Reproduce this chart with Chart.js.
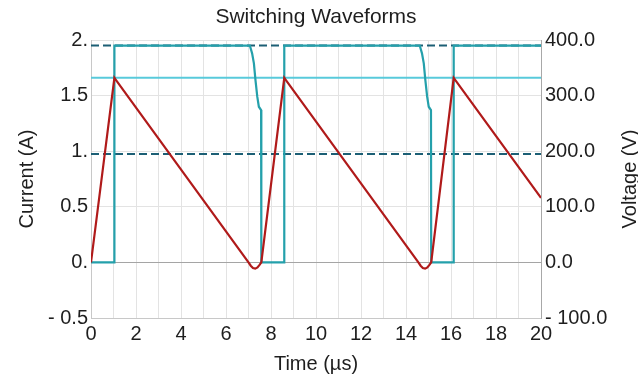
<!DOCTYPE html>
<html>
<head>
<meta charset="utf-8">
<script src="https://cdn.jsdelivr.net/npm/chart.js@4.4.1/dist/chart.umd.min.js"></script>
<style>
  html, body { margin: 0; padding: 0; background: #ffffff; }
  #wrap { width: 638px; height: 374px; }
</style>
</head>
<body>
<div id="wrap"><canvas id="c" width="638" height="374"></canvas></div>
<script>
// ---- data ----
const currentTime = [0, 1.04, 7.0, 7.1, 7.2, 7.3, 7.4, 7.5, 7.57, 8.59, 14.55, 14.65, 14.75, 14.85, 14.95, 15.05, 15.12, 16.12, 20];
const currentA    = [0, 1.66, 0, -0.03, -0.05, -0.056, -0.045, -0.02, 0, 1.66, 0, -0.03, -0.05, -0.056, -0.045, -0.02, 0, 1.66, 0.58];

const voltageTime = [0, 1.04, 1.04, 7.06, 7.16, 7.24, 7.31, 7.39, 7.46, 7.56, 7.57, 8.59, 8.59, 14.61, 14.71, 14.79, 14.86, 14.94, 15.01, 15.11, 15.12, 16.12, 16.12, 20];
const voltageV    = [0, 0, 390, 390, 376, 358, 328, 298, 280, 274, 0, 0, 390, 390, 376, 358, 328, 298, 280, 274, 0, 0, 390, 390];

const peakCurrent = 1.66;          // A, solid cyan reference
const inputVoltage = 390;          // V, dashed reference
const halfVoltage = 195;           // V, dashed reference
const timeRange = [0, 20];

const leftTickLabels  = ['- 0.5', '0.', '0.5', '1.', '1.5', '2.'];
const rightTickLabels = ['- 100.0', '0.0', '100.0', '200.0', '300.0', '400.0'];

// ---- build ----
const toXY = (xs, ys) => xs.map((x, i) => ({ x: x, y: ys[i] }));
const hLine = (v) => timeRange.map(x => ({ x: x, y: v }));

const FONT = "'Liberation Sans', Arial, sans-serif";
const TEXT = '#1e1e1e';

const rightTitle = {
  id: 'rightTitle',
  afterDraw(chart) {
    const ctx = chart.ctx;
    const a = chart.chartArea;
    ctx.save();
    ctx.translate(630, (a.top + a.bottom) / 2);
    ctx.rotate(-Math.PI / 2);
    ctx.font = '20px ' + FONT;
    ctx.fillStyle = TEXT;
    ctx.textAlign = 'center';
    ctx.textBaseline = 'middle';
    ctx.fillText('Voltage (V)', 0, 0);
    ctx.restore();
  }
};

new Chart(document.getElementById('c'), {
  type: 'line',
  data: {
    datasets: [
      { label: 'Current', data: toXY(currentTime, currentA), yAxisID: 'y',
        borderColor: '#b01a1a', borderWidth: 2.2 },
      { label: 'Voltage', data: toXY(voltageTime, voltageV), yAxisID: 'y1',
        borderColor: '#24a0ab', borderWidth: 2.2 },
      { label: 'Vin', data: hLine(inputVoltage), yAxisID: 'y1',
        borderColor: '#1c5f75', borderWidth: 2, borderDash: [8, 4] },
      { label: 'Vin/2', data: hLine(halfVoltage), yAxisID: 'y1',
        borderColor: '#1c5f75', borderWidth: 2, borderDash: [8, 4] },
      { label: 'Ipk', data: hLine(peakCurrent), yAxisID: 'y',
        borderColor: '#58cadb', borderWidth: 2 }
    ]
  },
  options: {
    responsive: false,
    animation: false,
    devicePixelRatio: 1,
    parsing: true,
    elements: { point: { radius: 0 }, line: { tension: 0 } },
    layout: { padding: 0 },
    plugins: {
      legend: { display: false },
      tooltip: { enabled: false },
      title: {
        display: true, text: 'Switching Waveforms', fullSize: false,
        color: TEXT, font: { family: FONT, size: 21, weight: 'normal', lineHeight: 1.2 },
        padding: { top: 5, bottom: 9.8 }
      }
    },
    scales: {
      x: {
        type: 'linear', min: timeRange[0], max: timeRange[1],
        afterFit: s => { s.height = 56; },
        ticks: {
          stepSize: 1, autoSkip: false, maxRotation: 0, padding: 4,
          color: TEXT, font: { family: FONT, size: 20 },
          callback: v => (v % 2 === 0 ? String(v) : '')
        },
        grid: { color: '#e3e3e3', lineWidth: 1, drawTicks: false },
        border: { color: '#c8c8c8' },
        title: { display: true, text: 'Time (µs)', color: TEXT,
          font: { family: FONT, size: 20, lineHeight: 1 }, padding: { top: 0, bottom: 0 } }
      },
      y: {
        position: 'left', min: -0.5, max: 2,
        afterFit: s => { s.width = 91; },
        ticks: {
          stepSize: 0.5, padding: 3, color: TEXT, font: { family: FONT, size: 20 },
          callback: (v, i) => leftTickLabels[i]
        },
        grid: { color: c => (c.tick && c.tick.value === 0 ? '#a5a5a5' : '#e3e3e3'), lineWidth: 1, drawTicks: false },
        border: { color: '#c8c8c8' },
        title: { display: true, text: 'Current (A)', color: TEXT,
          font: { family: FONT, size: 20, lineHeight: 1 }, padding: { top: 17, bottom: 0 } }
      },
      y1: {
        position: 'right', min: -100, max: 400,
        afterFit: s => { s.width = 97; },
        ticks: {
          stepSize: 100, padding: 4, color: TEXT, font: { family: FONT, size: 20 },
          callback: (v, i) => rightTickLabels[i]
        },
        grid: { display: false, drawTicks: false },
        border: { color: '#a8a8a8' }
      }
    }
  },
  plugins: [rightTitle]
});
</script>
</body>
</html>
